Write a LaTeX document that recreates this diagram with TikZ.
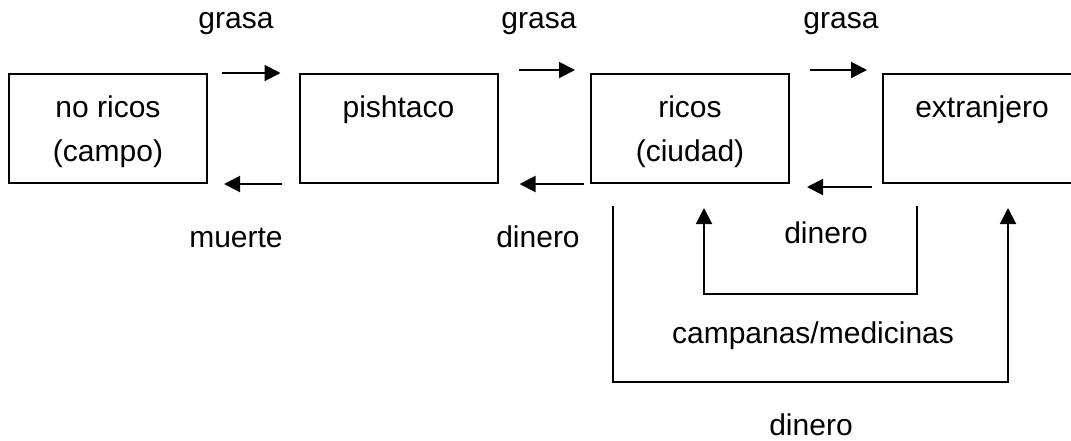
\documentclass[tikz,border=0pt]{standalone}
\usepackage{fontspec}
\setmainfont{Liberation Sans}
\usetikzlibrary{arrows.meta}

\begin{document}
\begin{tikzpicture}[line cap=butt,line join=miter,>={Triangle[length=8pt,width=8pt]},x=0.5pt,y=-0.5pt, line width=1pt,
    box/.style={rectangle, draw, minimum width=99pt, minimum height=54.5pt, inner sep=0pt},
    boxtext/.style={anchor=base, align=center, inner sep=0pt, font=\fontsize{15}{22}\selectfont},
    lbl/.style={anchor=base, inner sep=0pt, font=\fontsize{15}{18}\selectfont}]
                    \useasboundingbox (0,0) rectangle (1071,440);
                    \clip (0,0) rectangle (1071,440);

                    \node[box] (norico) at (108,128.5) {};
                    \node[box] (pisht) at (398.5,128.5) {};
                    \node[box] (rico) at (690,128.5) {};
                    \node[box] (extr) at (982,128.5) {};

                    % base of a two-line node is its last line
                    \node[boxtext] (tnorico) at (108,161) {no ricos\\(campo)};
                    \node[boxtext] (tpisht) at (398.5,117) {pishtaco};
                    \node[boxtext] (trico) at (690,161) {ricos\\(ciudad)};
                    \node[boxtext] (textr) at (982,117) {extranjero};

                    \node[lbl] (grasa1) at (236,28) {grasa};
                    \node[lbl] (grasa2) at (539,28) {grasa};
                    \node[lbl] (grasa3) at (841,28) {grasa};
                    \node[lbl] (muerte) at (236,247) {muerte};
                    \node[lbl] (dinero1) at (538,247) {dinero};
                    \node[lbl] (dinero2) at (826,243) {dinero};
                    \node[lbl] (campanas) at (813,343) {campanas/medicinas};
                    \node[lbl] (dinero3) at (811,435) {dinero};

                    \draw[->, shorten <=7pt, shorten >=9pt] (norico.north east) -- (pisht.north west);
                    \draw[->, shorten <=8.5pt, shorten >=8pt] (pisht.south west) -- (norico.south east);
                    \draw[->, shorten <=10pt, shorten >=7.5pt] ([yshift=1.5pt]pisht.north east) -- ([yshift=1.5pt]rico.north west);
                    \draw[->, shorten <=3pt, shorten >=10.5pt] (rico.south west) -- (pisht.south east);
                    \draw[->, shorten <=10pt, shorten >=7.5pt] ([yshift=1.5pt]rico.north east) -- ([yshift=1.5pt]extr.north west);
                    \draw[->, shorten <=5pt, shorten >=8.5pt] ([yshift=-1.5pt]extr.south west) -- ([yshift=-1.5pt]rico.south east);

                    \draw[->] ([shift={(35,22)}]extr.south west) -- ++(0,88) -| ([shift={(114,24)}]rico.south west);
                    \draw[->] ([shift={(23,22)}]rico.south west) -- ++(0,176) -| ([shift={(126,24)}]extr.south west);
                \end{tikzpicture}
\end{document}
